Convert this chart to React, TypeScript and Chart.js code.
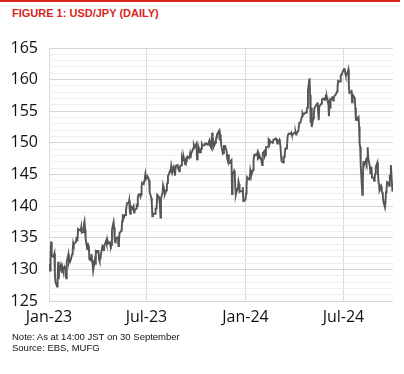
import React, { useEffect, useRef } from 'react';
import { Chart, registerables } from 'chart.js';
Chart.register(...registerables);

// USD/JPY daily (weekdays), starting Mon 2 Jan 2023, ending Mon 30 Sep 2024
const firstDay = 1; // days after 1 Jan 2023
const rates: number[] = [
  // 2023
  130.9, 129.8, 132.4, 134.4, 132.1,
  132.0, 132.2, 132.5, 129.1, 128.0,
  127.3, 128.2, 131.2, 128.4, 129.6,
  130.7, 130.2, 129.5, 130.3, 129.9,
  130.4, 130.1, 128.9, 128.6, 131.2,
  132.4, 131.1, 131.4, 131.3, 131.4,
  132.4, 133.1, 134.2, 133.9, 134.1,
  134.3, 134.9, 134.9, 134.7, 136.4,
  136.2, 136.2, 136.1, 136.7, 135.8,
  135.9, 137.2, 137.6, 136.3, 134.9,
  133.2, 134.2, 133.5, 133.8, 131.6,
  131.4, 132.4, 131.5, 130.8, 129.8,
  131.4, 130.9, 132.8, 132.7, 132.9,
  132.9, 131.6, 131.3, 131.8, 132.1,
  133.6, 133.7, 133.6, 132.9, 133.8,
  134.5, 134.1, 134.7, 134.2, 134.1,
  134.3, 133.7, 133.6, 133.9, 136.3,
  137.5, 136.6, 134.7, 134.3, 134.8,
  135.1, 135.2, 133.7, 134.5, 135.7,
  136.1, 136.4, 137.6, 138.7, 137.9,
  138.6, 138.6, 139.3, 140.0, 140.5,
  140.4, 140.9, 139.3, 138.8, 140.0,
  139.6, 139.6, 140.0, 139.0, 139.4,
  139.6, 140.1, 140.0, 141.3, 141.8,
  141.9, 141.5, 141.8, 143.1, 143.7,
  143.5, 144.0, 144.3, 145.0, 144.3,
  144.7, 144.5, 144.2, 144.1, 142.2,
  141.3, 140.4, 138.4, 138.6, 138.8,
  138.8, 139.6, 139.6, 140.0, 141.8,
  141.5, 141.0, 140.3, 138.2, 141.2,
  142.2, 143.3, 143.3, 142.6, 141.8,
  142.5, 143.4, 143.7, 144.8, 144.9,
  145.6, 145.5, 146.4, 145.9, 145.3,
  146.2, 145.9, 144.8, 145.9, 146.4,
  146.5, 145.9, 146.2, 145.5, 146.2,
  146.5, 147.7, 147.4, 147.3, 147.8,
  146.6, 147.1, 147.5, 147.4, 147.8,
  147.6, 147.9, 148.3, 147.6, 148.3,
  148.9, 149.1, 149.6, 149.3, 149.4,
  149.9, 147.4, 149.1, 148.5, 149.3,
  148.5, 148.7, 149.1, 149.8, 149.6,
  149.6, 149.8, 149.8, 149.9, 149.9,
  149.7, 149.9, 150.2, 150.4, 149.6,
  149.1, 151.6, 151.0, 150.3, 149.4,
  150.0, 150.4, 150.9, 151.3, 151.5,
  151.9, 150.4, 151.3, 150.8, 149.6,
  148.3, 148.4, 149.5, 149.5, 149.5,
  148.7, 147.5, 147.2, 148.2, 146.8,
  146.8, 147.2, 147.3, 141.9, 144.9,
  145.6, 145.4, 142.9, 141.8, 142.2,
  142.8, 143.9, 143.5, 142.3, 142.4,
  142.3, 142.3, 143.0, 140.8, 141.0,
  // 2024
  141.0, 142.0, 143.3, 144.6, 144.6,
  144.2, 144.5, 145.7, 145.3, 144.9,
  145.7, 147.2, 148.0, 148.1, 148.2,
  148.1, 148.4, 147.5, 147.6, 148.2,
  147.5, 147.5, 146.9, 146.5, 148.4,
  148.7, 147.9, 148.1, 149.3, 149.3,
  149.4, 150.6, 150.5, 149.9, 150.2,
  150.1, 150.0, 150.2, 150.5, 150.5,
  150.7, 150.5, 150.7, 149.9, 150.1,
  150.5, 150.0, 149.4, 148.0, 147.1,
  146.9, 147.6, 147.8, 148.3, 149.1,
  149.1, 150.8, 151.3, 151.3, 151.5,
  151.4, 151.6, 151.3, 151.3, 151.4,
  151.6, 151.6, 151.7, 151.3, 151.6,
  151.8, 151.8, 153.2, 153.2, 153.2,
  154.2, 154.7, 154.5, 154.6, 154.6,
  154.8, 154.8, 155.3, 155.6, 158.3,
  160.2, 157.6, 153.2, 155.6, 152.5,
  153.9, 154.7, 155.5, 155.5, 155.8,
  156.2, 156.4, 154.9, 153.6, 155.7,
  156.1, 156.2, 156.8, 157.0, 157.0,
  156.8, 157.1, 157.6, 156.9, 157.3,
  156.1, 154.2, 156.1, 155.6, 156.8,
  157.2, 157.1, 156.7, 157.0, 157.4,
  157.7, 157.9, 158.1, 158.9, 159.8,
  159.7, 159.7, 160.7, 160.8, 160.9,
  161.5, 161.4, 161.8, 161.2, 160.8,
  160.8, 161.3, 161.6, 159.0, 157.9,
  158.0, 158.4, 156.4, 157.0, 157.5,
  157.1, 155.5, 153.8, 153.9, 153.8,
  154.1, 152.6, 149.9, 149.4, 146.6,
  141.8, 144.2, 147.0, 147.1, 146.6,
  147.3, 146.9, 147.3, 149.3, 147.6,
  146.3, 145.2, 145.3, 146.2, 144.5,
  144.5, 144.0, 144.6, 145.1, 146.2,
  146.9, 145.5, 143.8, 143.5, 142.5,
  143.1, 142.4, 142.2, 141.8, 140.8,
  139.8, 140.6, 142.2, 142.6, 143.8,
  143.6, 143.2, 144.8, 144.8, 146.5,
  142.3,
];

const xTickDays = [0, 181, 365, 547];
const xTickLabels = ['Jan-23', 'Jul-23', 'Jan-24', 'Jul-24'];
const xMaxDay = 639;
const yMin = 125;
const yMax = 165;

const titleText = 'FIGURE 1: USD/JPY (DAILY)';
const noteText = 'Note: As at 14:00 JST on 30 September';
const sourceText = 'Source: EBS, MUFG';

function dayOfIndex(i: number): number {
  return firstDay + Math.floor(i / 5) * 7 + (i % 5);
}

export default function App() {
  const ref = useRef<HTMLCanvasElement | null>(null);
  useEffect(() => {
    if (!ref.current) return;
    const points = rates.map((v, i) => ({ x: dayOfIndex(i), y: v }));
    const chart = new Chart(ref.current, {
      type: 'line',
      data: {
        datasets: [
          {
            data: points,
            borderColor: '#555555',
            borderWidth: 1.9,
            pointRadius: 0,
            tension: 0,
            fill: false,
          },
        ],
      },
      options: {
        animation: false,
        responsive: false,
        maintainAspectRatio: false,
        layout: { padding: { top: 48, left: 0, right: 11, bottom: 43 } },
        plugins: { legend: { display: false }, tooltip: { enabled: false }, title: { display: false } },
        scales: {
          x: {
            type: 'linear',
            min: 0,
            max: xMaxDay,
            afterBuildTicks: (scale: any) => {
              scale.ticks = xTickDays.map((v) => ({ value: v }));
            },
            afterFit: (scale: any) => {
              scale.height = 30;
            },
            ticks: {
              autoSkip: false,
              maxRotation: 0,
              padding: 7,
              color: '#111111',
              font: { family: '"Open Sans", sans-serif', size: 16 },
              callback: (v: any) => {
                const k = xTickDays.indexOf(Number(v));
                return k >= 0 ? xTickLabels[k] : '';
              },
            },
            grid: { color: '#dadada', lineWidth: 1, drawTicks: false },
            border: { display: false },
          },
          y: {
            min: yMin,
            max: yMax,
            afterFit: (scale: any) => {
              scale.width = 49;
            },
            ticks: {
              stepSize: 1,
              autoSkip: false,
              padding: 11,
              color: '#111111',
              font: { family: '"Open Sans", sans-serif', size: 16 },
              callback: (v: any) => (Number(v) % 5 === 0 ? String(v) : ''),
            },
            grid: {
              drawTicks: false,
              lineWidth: 1,
              color: (ctx: any) => (ctx.tick && Number(ctx.tick.value) % 5 === 0 ? '#d6d6d6' : '#eeeeee'),
            },
            border: { display: false },
          },
        },
      },
    } as any);
    return () => chart.destroy();
  }, []);

  const textFont = '"Liberation Sans", Arial, sans-serif';
  return (
    <div style={{ position: 'fixed', left: 0, top: 0, width: 404, height: 374, background: '#ffffff', overflow: 'hidden' }}>
      <div style={{ position: 'absolute', left: 0, top: 0, width: 400, height: 2, background: '#d9261c' }} />
      <div
        style={{
          position: 'absolute', left: 12, top: 7.7, fontFamily: textFont, fontWeight: 'bold', fontSize: 11,
          lineHeight: '11px', color: '#d9261c', whiteSpace: 'nowrap',
        }}
      >
        {titleText}
      </div>
      <canvas ref={ref} width={404} height={374} style={{ position: 'absolute', left: 0, top: 0, width: 404, height: 374 }} />
      <div
        style={{
          position: 'absolute', left: 12, top: 331.5, fontFamily: textFont, fontSize: 9.5,
          lineHeight: '9.5px', color: '#111111', whiteSpace: 'nowrap',
        }}
      >
        {noteText}
      </div>
      <div
        style={{
          position: 'absolute', left: 12, top: 342.5, fontFamily: textFont, fontSize: 9.5,
          lineHeight: '9.5px', color: '#111111', whiteSpace: 'nowrap',
        }}
      >
        {sourceText}
      </div>
    </div>
  );
}
